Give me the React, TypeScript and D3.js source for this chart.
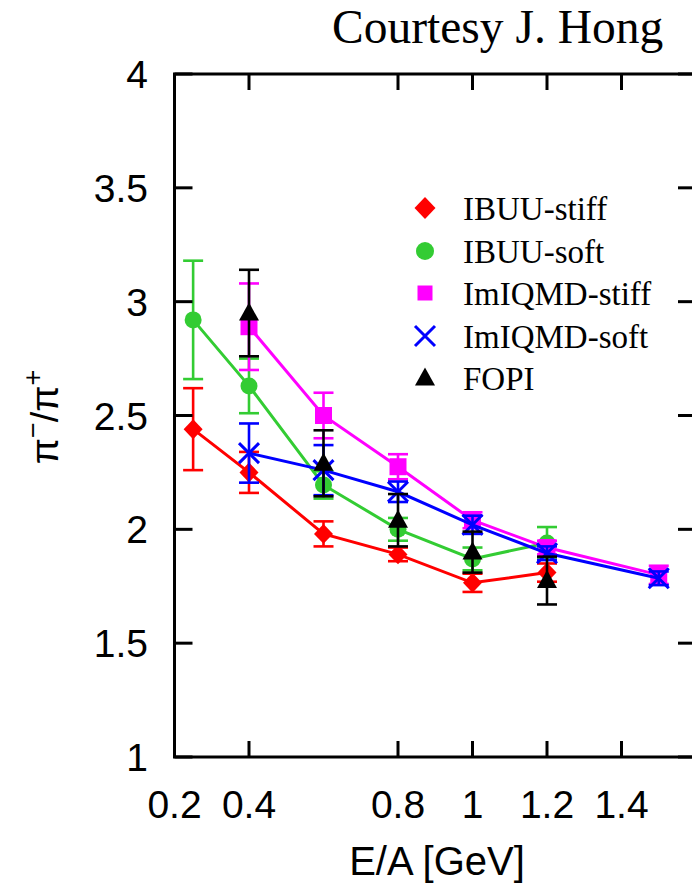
import React from "react";
import * as d3 from "d3";

const W = 692;
const H = 885;

// Data
const ibuuEnergies = [0.25, 0.4, 0.6, 0.8, 1.0, 1.2];
const ibuuStiff = [2.44, 2.25, 1.98, 1.89, 1.765, 1.81];
const ibuuStiffErr = [0.18, 0.09, 0.055, 0.03, 0.04, 0.04];
const ibuuSoft = [2.92, 2.63, 2.195, 2.0, 1.87, 1.94];
const ibuuSoftErr = [0.26, 0.12, 0.06, 0.05, 0.05, 0.07];

const qmdEnergies = [0.4, 0.6, 0.8, 1.0, 1.2, 1.5];
const imqmdStiff = [2.89, 2.5, 2.275, 2.04, 1.92, 1.8];
const imqmdStiffErr = [0.19, 0.1, 0.055, 0.035, 0.03, 0.04];
const imqmdSoft = [2.335, 2.26, 2.165, 2.02, 1.895, 1.785];
const imqmdSoftErr = [0.13, 0.11, 0.045, 0.04, 0.03, 0.03];

const fopiEnergies = [0.4, 0.6, 0.8, 1.0, 1.2];
const fopi = [2.95, 2.29, 2.04, 1.9, 1.775];
const fopiErr = [0.19, 0.145, 0.115, 0.09, 0.105];

const xTicks = [0.2, 0.4, 0.8, 1, 1.2, 1.4];
const yTicks = [1, 1.5, 2, 2.5, 3, 3.5, 4];

type Shape = "diamond" | "circle" | "square" | "cross" | "triangle";

function markerPath(shape: Shape, s: number): string {
  const h = s / 2;
  switch (shape) {
    case "diamond":
      return `M0,${-h * 1.05}L${h},0L0,${h * 1.05}L${-h},0Z`;
    case "circle":
      return d3.arc()({ innerRadius: 0, outerRadius: h, startAngle: 0, endAngle: 2 * Math.PI } as any) || "";
    case "square":
      return `M${-h},${-h}L${h},${-h}L${h},${h}L${-h},${h}Z`;
    case "cross":
      return `M${-h},${-h}L${h},${h}M${-h},${h}L${h},${-h}`;
    case "triangle":
      return `M0,${-h * 1.05}L${h},${h * 0.75}L${-h},${h * 0.75}Z`;
  }
}

const seriesList = [
  { name: "IBUU-stiff", color: "#ff0000", shape: "diamond" as Shape, xs: ibuuEnergies, ys: ibuuStiff, es: ibuuStiffErr, line: true, size: 19, lsize: 21 },
  { name: "IBUU-soft", color: "#33cc33", shape: "circle" as Shape, xs: ibuuEnergies, ys: ibuuSoft, es: ibuuSoftErr, line: true, size: 17, lsize: 18 },
  { name: "ImIQMD-stiff", color: "#ff00ff", shape: "square" as Shape, xs: qmdEnergies, ys: imqmdStiff, es: imqmdStiffErr, line: true, size: 17, lsize: 15 },
  { name: "ImIQMD-soft", color: "#0000ff", shape: "cross" as Shape, xs: qmdEnergies, ys: imqmdSoft, es: imqmdSoftErr, line: true, size: 20, lsize: 20 },
  { name: "FOPI", color: "#000000", shape: "triangle" as Shape, xs: fopiEnergies, ys: fopi, es: fopiErr, line: false, size: 20, lsize: 20 },
];

export default function App() {
  const x0 = 174.5, x1 = 696, yTop = 74, yBot = 757;
  const x = d3.scaleLinear().domain([0.2, 1.6]).range([x0, x1]);
  const y = d3.scaleLinear().domain([1, 4]).range([yBot, yTop]);
  const lineGen = d3.line<[number, number]>().x((d) => x(d[0])).y((d) => y(d[1]));
  const tickLenX = 16;
  const tickLenY = 18;
  const capW = 10;

  const legendY = [208, 251, 293, 336, 378];

  return (
    <div style={{ position: "absolute", left: 0, top: 0 }}>
      <svg width={W} height={H} viewBox={`0 0 ${W} ${H}`} style={{ display: "block", background: "#fff" }}>
        <rect x={0} y={0} width={W} height={H} fill="#fff" />
        <text x={332} y={43} fontFamily="'Liberation Serif', 'Times New Roman', serif" fontSize={47.5} fill="#000">
          Courtesy J. Hong
        </text>

        {/* series */}
        {seriesList.map((s) => (
          <g key={s.name}>
            {s.line && (
              <path
                d={lineGen(s.xs.map((xv, i) => [xv, s.ys[i]] as [number, number])) || ""}
                fill="none"
                stroke={s.color}
                strokeWidth={3}
              />
            )}
            {s.xs.map((xv, i) => {
              const cx = x(xv);
              const yl = y(s.ys[i] - s.es[i]);
              const yh = y(s.ys[i] + s.es[i]);
              return (
                <g key={i} stroke={s.color} strokeWidth={2.6}>
                  <line x1={cx} x2={cx} y1={yl} y2={yh} />
                  <line x1={cx - capW} x2={cx + capW} y1={yl} y2={yl} />
                  <line x1={cx - capW} x2={cx + capW} y1={yh} y2={yh} />
                </g>
              );
            })}
            {s.xs.map((xv, i) => (
              <path
                key={"m" + i}
                transform={`translate(${x(xv)},${y(s.ys[i])})`}
                d={markerPath(s.shape, s.size)}
                fill={s.shape === "cross" ? "none" : s.color}
                stroke={s.shape === "cross" ? s.color : "none"}
                strokeWidth={3}
              />
            ))}
          </g>
        ))}

        {/* frame */}
        <rect x={x0} y={yTop} width={x1 - x0} height={yBot - yTop} fill="none" stroke="#000" strokeWidth={3} />
        {xTicks.map((t) => (
          <g key={"xt" + t} stroke="#000" strokeWidth={3}>
            <line x1={x(t)} x2={x(t)} y1={yBot} y2={yBot - tickLenX} />
            <line x1={x(t)} x2={x(t)} y1={yTop} y2={yTop + tickLenX} />
          </g>
        ))}
        {yTicks.map((t) => (
          <g key={"yt" + t} stroke="#000" strokeWidth={3}>
            <line x1={x0} x2={x0 + tickLenY} y1={y(t)} y2={y(t)} />
            <line x1={x1} x2={x1 - tickLenY} y1={y(t)} y2={y(t)} />
          </g>
        ))}

        {/* tick labels */}
        {xTicks.map((t) => (
          <text
            key={"xl" + t}
            x={x(t)}
            y={818}
            textAnchor="middle"
            fontFamily="'Liberation Sans', Arial, sans-serif"
            fontSize={39}
            fill="#000"
          >
            {d3.format("~g")(t)}
          </text>
        ))}
        {yTicks.map((t) => (
          <text
            key={"yl" + t}
            x={148}
            y={y(t)}
            dy="0.36em"
            textAnchor="end"
            fontFamily="'Liberation Sans', Arial, sans-serif"
            fontSize={39}
            fill="#000"
          >
            {d3.format("~g")(t)}
          </text>
        ))}

        {/* axis titles */}
        <text
          x={437}
          y={875}
          textAnchor="middle"
          fontFamily="'Liberation Sans', Arial, sans-serif"
          fontSize={40}
          fill="#000"
        >
          E/A [GeV]
        </text>
        <text
          transform="translate(58,417) rotate(-90)"
          textAnchor="middle"
          fontFamily="'Liberation Sans', Arial, sans-serif"
          fontSize={38}
          fill="#000"
        >
          π<tspan fontSize={27} dy={-16}>−</tspan>
          <tspan dy={16}>/π</tspan>
          <tspan fontSize={27} dy={-16}>+</tspan>
        </text>

        {/* legend */}
        {seriesList.map((s, i) => (
          <g key={"lg" + i}>
            <path
              transform={`translate(425,${legendY[i]})`}
              d={markerPath(s.shape, s.lsize)}
              fill={s.shape === "cross" ? "none" : s.color}
              stroke={s.shape === "cross" ? s.color : "none"}
              strokeWidth={3}
            />
            <text
              x={463}
              y={legendY[i] + 12}
              fontFamily="'Liberation Serif', 'Times New Roman', serif"
              fontSize={33}
              fill="#000"
            >
              {s.name}
            </text>
          </g>
        ))}
      </svg>
    </div>
  );
}
